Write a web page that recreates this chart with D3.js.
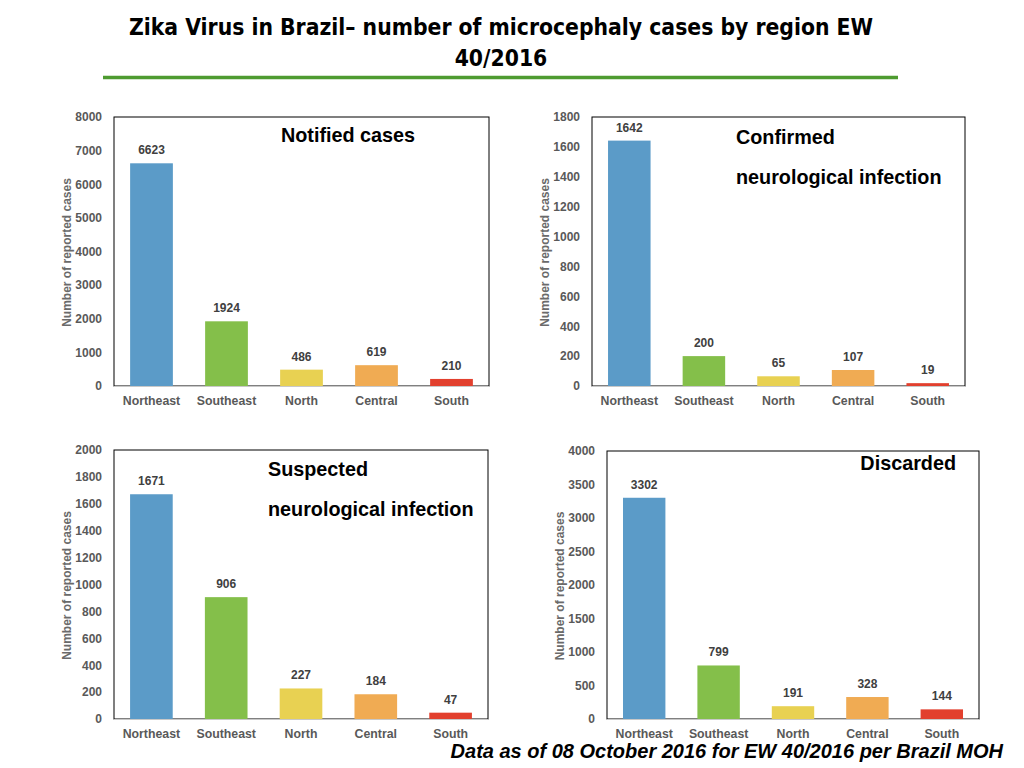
<!DOCTYPE html>
<html>
<head>
<meta charset="utf-8">
<script src="https://cdn.jsdelivr.net/npm/d3@7"></script>
<style>
  body { margin: 0; background: #fff; }
  svg { display: block; font-family: "Liberation Sans", Arial, sans-serif; }
</style>
</head>
<body>
<svg id="chart" width="1024" height="768"></svg>
<script>
// datos por región
const regions = ['Northeast', 'Southeast', 'North', 'Central', 'South'];
const barColors = ['#5b9bc8', '#84bf4a', '#e8d152', '#f0ab53', '#e2402e'];
const notified = [6623, 1924, 486, 619, 210];
const confirmed = [1642, 200, 65, 107, 19];
const suspected = [1671, 906, 227, 184, 47];
const discarded = [3302, 799, 191, 328, 144];
const notifiedTicks = d3.range(0, 8001, 1000);
const confirmedTicks = d3.range(0, 1801, 200);
const suspectedTicks = d3.range(0, 2001, 200);
const discardedTicks = d3.range(0, 4001, 500);

const svg = d3.select('#chart');

// título
const title = svg.append('text')
    .attr('text-anchor', 'middle')
    .attr('font-family', '"Liberation Sans Narrow", "DejaVu Sans Condensed", sans-serif')
    .attr('font-weight', 'bold')
    .attr('font-size', '22.7px')
    .attr('fill', '#000');
title.append('tspan').attr('x', 501).attr('y', 35)
    .text('Zika Virus in Brazil\u2013  number of microcephaly cases by region EW');
title.append('tspan').attr('x', 501).attr('y', 66).text('40/2016');

svg.append('line')
    .attr('x1', 103).attr('x2', 898)
    .attr('y1', 77.5).attr('y2', 77.5)
    .attr('stroke', '#4e9b30')
    .attr('stroke-width', 3.5);

function drawPanel(p) {
    const g = svg.append('g');
    const x = d3.scaleBand().domain(regions)
        .range([p.left, p.right])
        .paddingInner(0.43).paddingOuter(0.215);
    const y = d3.scaleLinear().domain([0, d3.max(p.ticks)])
        .range([p.bottom, p.top]);

    // marco
    g.append('rect')
        .attr('x', p.left).attr('y', p.top)
        .attr('width', p.right - p.left).attr('height', p.bottom - p.top)
        .attr('fill', 'none').attr('stroke', '#000').attr('stroke-width', 1);

    // barras
    g.selectAll('rect.bar')
        .data(p.values)
        .enter()
        .append('rect')
        .attr('class', 'bar')
        .attr('x', (d, i) => x(regions[i]))
        .attr('y', d => y(d))
        .attr('width', x.bandwidth())
        .attr('height', d => y(0) - y(d))
        .attr('fill', (d, i) => barColors[i]);

    // eje x
    g.append('line')
        .attr('x1', p.left).attr('x2', p.right)
        .attr('y1', p.bottom + 0.5).attr('y2', p.bottom + 0.5)
        .attr('stroke', '#c8c8c8').attr('stroke-width', 1.2);

    // eje y (sin línea, solo etiquetas)
    const yAxis = d3.axisLeft(y).tickValues(p.ticks).tickFormat(d3.format('d'))
        .tickSize(0).tickPadding(12);
    const ya = g.append('g').attr('transform', `translate(${p.left},0)`).call(yAxis);
    ya.select('.domain').remove();
    ya.selectAll('text')
        .attr('font-family', '"Liberation Sans", Arial, sans-serif')
        .attr('font-size', '12px')
        .attr('font-weight', 'bold')
        .attr('fill', '#595959');

    // etiquetas de categorías
    const xAxis = d3.axisBottom(x).tickSize(0).tickPadding(10);
    const xa = g.append('g').attr('transform', `translate(0,${p.bottom})`).call(xAxis);
    xa.select('.domain').remove();
    xa.selectAll('text')
        .attr('font-family', '"Liberation Sans", Arial, sans-serif')
        .attr('font-size', '12.3px')
        .attr('font-weight', 'bold')
        .attr('fill', '#595959');

    // valores
    g.selectAll('text.val')
        .data(p.values)
        .enter()
        .append('text')
        .attr('class', 'val')
        .attr('x', (d, i) => x(regions[i]) + x.bandwidth() / 2)
        .attr('y', d => y(d) - 9)
        .attr('text-anchor', 'middle')
        .attr('font-size', '12px')
        .attr('font-weight', 'bold')
        .attr('fill', '#404040')
        .text(d => d);

    // título del eje y
    g.append('text')
        .attr('transform', `translate(${p.left - 43.5},${(p.top + p.bottom) / 2 + 1}) rotate(-90)`)
        .attr('text-anchor', 'middle')
        .attr('font-size', '12px')
        .attr('font-weight', 'bold')
        .attr('fill', '#6a6a6a')
        .text('Number of reported cases');

    // título del panel
    const t = g.append('text')
        .attr('text-anchor', p.anchor)
        .attr('font-size', '19.8px')
        .attr('font-weight', 'bold')
        .attr('fill', '#000');
    p.label.forEach((line, i) => {
        t.append('tspan').attr('x', p.labelX).attr('y', p.labelY + i * 40).text(line);
    });
}

drawPanel({ values: notified, ticks: notifiedTicks, left: 114, right: 489, top: 117, bottom: 386,
    label: ['Notified cases'], labelX: 348, labelY: 142, anchor: 'middle' });
drawPanel({ values: confirmed, ticks: confirmedTicks, left: 592, right: 965, top: 117, bottom: 386,
    label: ['Confirmed', 'neurological infection'], labelX: 736, labelY: 144, anchor: 'start' });
drawPanel({ values: suspected, ticks: suspectedTicks, left: 114, right: 488, top: 450, bottom: 719,
    label: ['Suspected', 'neurological infection'], labelX: 268, labelY: 476, anchor: 'start' });
drawPanel({ values: discarded, ticks: discardedTicks, left: 607, right: 979, top: 451, bottom: 719,
    label: ['Discarded'], labelX: 956, labelY: 470, anchor: 'end' });

// nota al pie
svg.append('text')
    .attr('x', 1003).attr('y', 758)
    .attr('text-anchor', 'end')
    .attr('font-size', '20px')
    .attr('font-weight', 'bold')
    .attr('font-style', 'italic')
    .attr('fill', '#000')
    .text('Data as of 08 October 2016 for EW 40/2016 per Brazil MOH');
</script>
</body>
</html>
